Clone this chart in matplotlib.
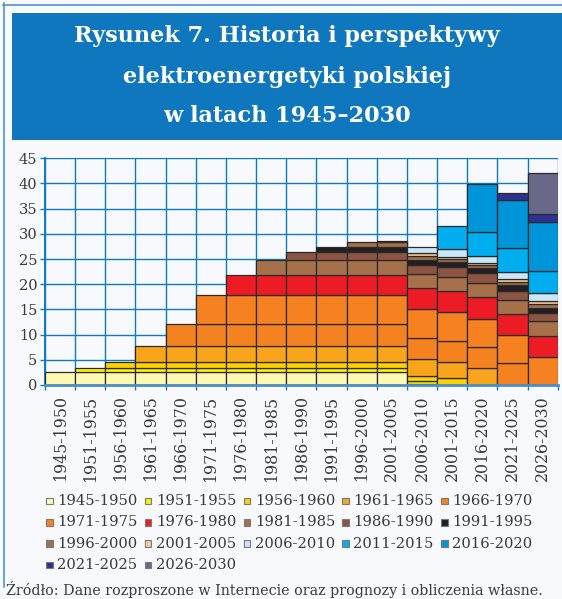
import numpy as np
import matplotlib
matplotlib.use("Agg")
import matplotlib.pyplot as plt
from matplotlib.patches import Rectangle
from matplotlib.lines import Line2D

# ---------------- data ----------------
periods = ["1945-1950", "1951-1955", "1956-1960", "1961-1965", "1966-1970",
           "1971-1975", "1976-1980", "1981-1985", "1986-1990", "1991-1995",
           "1996-2000", "2001-2005", "2006-2010", "2001-2015", "2016-2020",
           "2021-2025", "2026-2030"]
legend_labels = ["1945-1950", "1951-1955", "1956-1960", "1961-1965", "1966-1970",
                 "1971-1975", "1976-1980", "1981-1985", "1986-1990", "1991-1995",
                 "1996-2000", "2001-2005", "2006-2010", "2011-2015", "2016-2020",
                 "2021-2025", "2026-2030"]

s1945_1950 = [2.5, 2.5, 2.5, 2.5, 2.5, 2.5, 2.5, 2.5, 2.5, 2.5, 2.5, 2.5, 0.2, 0, 0, 0, 0]
s1951_1955 = [0, 0.8, 0.8, 0.8, 0.8, 0.8, 0.8, 0.8, 0.8, 0.8, 0.8, 0.8, 0.6, 0, 0, 0, 0]
s1956_1960 = [0, 0, 1.2, 1.2, 1.2, 1.2, 1.2, 1.2, 1.2, 1.2, 1.2, 1.2, 1.0, 1.3, 0, 0, 0]
s1961_1965 = [0, 0, 0, 3.2, 3.2, 3.2, 3.2, 3.2, 3.2, 3.2, 3.2, 3.2, 3.3, 3.2, 3.3, 0, 0]
s1966_1970 = [0, 0, 0, 0, 4.4, 4.4, 4.4, 4.4, 4.4, 4.4, 4.4, 4.4, 4.3, 4.2, 4.3, 4.3, 0]
s1971_1975 = [0, 0, 0, 0, 0, 5.7, 5.7, 5.7, 5.7, 5.7, 5.7, 5.7, 5.6, 5.8, 5.6, 5.6, 5.6]
s1976_1980 = [0, 0, 0, 0, 0, 0, 4.0, 4.0, 4.0, 4.0, 4.0, 4.0, 4.2, 4.2, 4.2, 4.2, 4.1]
s1981_1985 = [0, 0, 0, 0, 0, 0, 0, 3.1, 3.1, 3.1, 3.1, 3.1, 2.8, 2.8, 2.8, 2.8, 3.0]
s1986_1990 = [0, 0, 0, 0, 0, 0, 0, 0, 1.5, 1.5, 1.5, 1.5, 1.9, 1.9, 2.0, 1.8, 1.6]
s1991_1995 = [0, 0, 0, 0, 0, 0, 0, 0, 0, 1.0, 1.0, 1.0, 1.0, 1.1, 1.0, 1.1, 1.0]
s1996_2000 = [0, 0, 0, 0, 0, 0, 0, 0, 0, 0, 0.9, 0.9, 0.8, 0.5, 0.6, 0.6, 0.7]
s2001_2005 = [0, 0, 0, 0, 0, 0, 0, 0, 0, 0, 0, 0.2, 0.5, 0.5, 0.5, 0.6, 0.7]
s2006_2010 = [0, 0, 0, 0, 0, 0, 0, 0, 0, 0, 0, 0, 1.2, 1.4, 1.4, 1.4, 1.5]
s2011_2015 = [0, 0, 0, 0, 0, 0, 0, 0, 0, 0, 0, 0, 0, 4.6, 4.7, 4.7, 4.5]
s2016_2020 = [0, 0, 0, 0, 0, 0, 0, 0, 0, 0, 0, 0, 0, 0, 9.4, 9.6, 9.6]
s2021_2025 = [0, 0, 0, 0, 0, 0, 0, 0, 0, 0, 0, 0, 0, 0, 0, 1.5, 1.6]
s2026_2030 = [0, 0, 0, 0, 0, 0, 0, 0, 0, 0, 0, 0, 0, 0, 0, 0, 8.2]

layers = [s1945_1950, s1951_1955, s1956_1960, s1961_1965, s1966_1970,
          s1971_1975, s1976_1980, s1981_1985, s1986_1990, s1991_1995,
          s1996_2000, s2001_2005, s2006_2010, s2011_2015, s2016_2020,
          s2021_2025, s2026_2030]

colors = ["#FFF8B0", "#FFF200", "#FFD100", "#F9A51B", "#F58220",
          "#F68121", "#ED1C24", "#A6714A", "#8C5443", "#231F20",
          "#A3704A", "#FBC998", "#C8E8F8", "#00AEEF", "#0095D8",
          "#2E3192", "#6A6889"]

# ---------------- layout helpers ----------------
W, H = 562, 599
BG = "#F7F9FC"
GRID = "#0A7BC4"
TXT = "#3a3a3a"
SERIF = ["DejaVu Serif"]


def fx(x):
    return x / W


def fy(y):
    return 1 - y / H


fig = plt.figure(figsize=(W / 100, H / 100), dpi=100, facecolor=BG)

# outer frame
fig.add_artist(Line2D([fx(3.5), fx(3.5)], [fy(3), fy(587)], color="#4A95CF", lw=1.2))
fig.add_artist(Line2D([fx(3), fx(562)], [fy(4.5), fy(4.5)], color="#4A95CF", lw=1.2))

# title box
fig.add_artist(Rectangle((fx(11.5), fy(140)), fx(562) - fx(11.5), (140 - 13.5) / H,
                         facecolor="#0E77BD", edgecolor="none"))
title_lines = ["Rysunek 7. Historia i perspektywy",
               "elektroenergetyki polskiej",
               "w latach 1945–2030"]
title_y = [36, 77, 116.5]
title_texts = []
for line, yy in zip(title_lines, title_y):
    t = fig.text(fx(287), fy(yy), line, ha="center", va="center", color="white",
                 fontsize=18, fontweight="bold", family=SERIF)
    title_texts.append(t)

# ---------------- axes ----------------
ax = fig.add_axes([fx(45), fy(385), (557.7 - 45) / W, (385 - 158.3) / H])
ax.set_facecolor(BG)
x = np.arange(len(periods))
bottom = np.zeros(len(periods))
for vals, col in zip(layers, colors):
    v = np.array(vals, dtype=float)
    m = v > 0
    ax.bar(x[m], v[m], width=1.0, bottom=bottom[m], color=col,
           edgecolor="#2a2a2a", linewidth=0.9, zorder=3)
    bottom += v

ax.set_xlim(-0.5, len(periods) - 0.5)
ax.set_ylim(0, 45)
ax.set_yticks(np.arange(0, 46, 5))
ax.set_xticks(x)
ax.set_xticklabels(periods, rotation=90, family=SERIF, color=TXT, fontsize=11)
ax.set_xticks(np.arange(-0.5, len(periods), 1.0), minor=True)
ax.tick_params(axis="x", which="major", length=0, pad=7.5)
ax.tick_params(axis="x", which="minor", length=3.5, color=GRID, width=1)
ax.tick_params(axis="y", length=3.5, color=GRID, width=1, pad=2, labelsize=11,
               labelcolor=TXT)
for lab in ax.get_yticklabels():
    lab.set_family(SERIF)
ax.grid(True, axis="y", color=GRID, lw=1.0, zorder=1)
ax.grid(True, axis="x", which="minor", color=GRID, lw=1.0, zorder=1)
ax.set_axisbelow(True)
for s in ["top", "right"]:
    ax.spines[s].set_visible(False)
ax.spines["left"].set_color(GRID)
ax.spines["left"].set_linewidth(1.4)
ax.spines["bottom"].set_color("#4C8EC4")
ax.spines["bottom"].set_linewidth(2.0)
ax.spines["bottom"].set_zorder(4)

# ---------------- legend (manual grid, row-wise) ----------------
leg_x0, leg_dx = 49.5, 98.7
leg_y0, leg_dy = 501, 21.3
leg_texts = []
for i, (lab, col) in enumerate(zip(legend_labels, colors)):
    r, c = divmod(i, 5)
    cx = leg_x0 + c * leg_dx
    cy = leg_y0 + r * leg_dy
    sq = 6.5
    fig.add_artist(Rectangle((fx(cx - sq / 2), fy(cy + sq / 2)), sq / W, sq / H,
                             facecolor=col, edgecolor="#7a7a7a", lw=0.8))
    t = fig.text(fx(cx + 7.8), fy(cy), lab, ha="left", va="center", color=TXT,
                 fontsize=10.5, family=SERIF)
    leg_texts.append(t)

src = fig.text(fx(6.5), fy(597.5), "Źródło: Dane rozproszone w Internecie oraz prognozy i obliczenia własne.",
               ha="left", va="bottom", color=TXT, fontsize=10, family=SERIF)

# ---------------- fit font sizes to the measured widths ----------------
fig.canvas.draw()
rend = fig.canvas.get_renderer()


def fit(texts, target):
    bb = texts[0].get_window_extent(rend)
    fs = texts[0].get_fontsize() * target / bb.width
    for t in texts:
        t.set_fontsize(fs)
    return fs


fit(title_texts[:1], 426)
fs_title = title_texts[0].get_fontsize()
for t in title_texts:
    t.set_fontsize(fs_title)
fit(leg_texts, 80)
fit([src], 536)
xt = ax.get_xticklabels()
bb = xt[0].get_window_extent(rend)
fs_x = xt[0].get_fontsize() * 86 / bb.height
for t in xt:
    t.set_fontsize(fs_x)
for t in ax.get_yticklabels():
    t.set_fontsize(fs_x * 0.92)

fig.savefig("out.png", dpi=100, facecolor=BG)
